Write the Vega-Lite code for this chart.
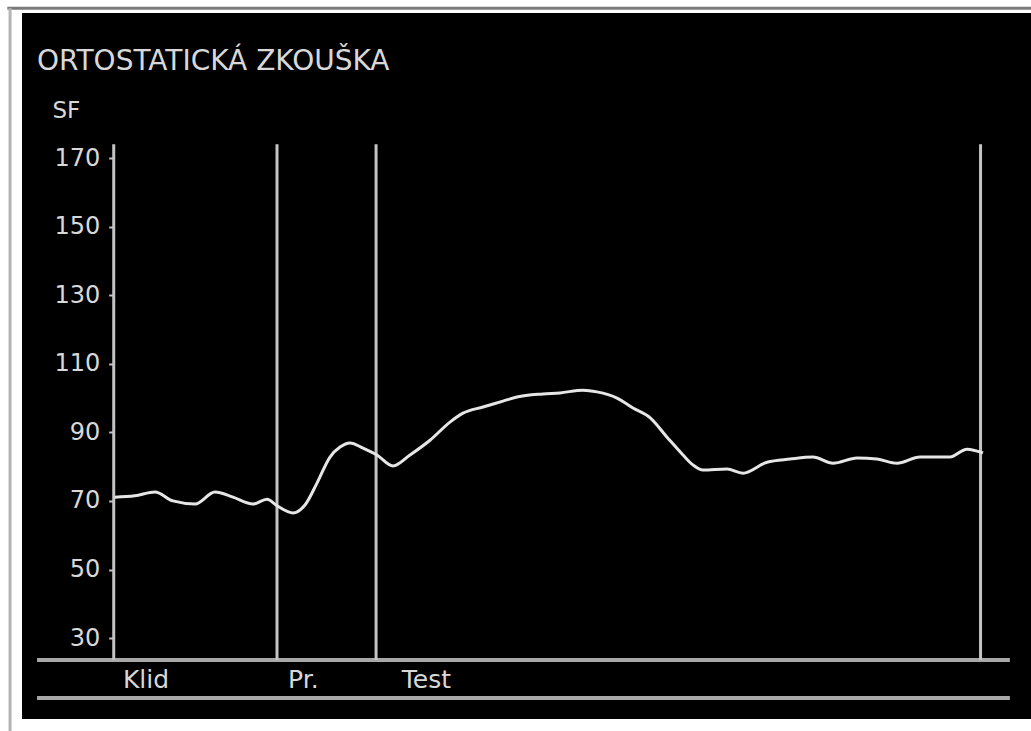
{
  "$schema": "https://vega.github.io/schema/vega-lite/v6.json",
  "autosize": "none",
  "width": 1009,
  "height": 706,
  "padding": {"left": 22, "top": 13, "right": 0, "bottom": 12},
  "background": "#ffffff",
  "config": {
    "view": {"fill": "#000000", "stroke": null},
    "font": "DejaVu Sans"
  },
  "layer": [
    {
      "data": {"values": [{}]},
      "mark": {"type": "rule", "color": "#7a7a7a", "strokeWidth": 3, "clip": false},
      "encoding": {
        "x": {"datum": -11.6, "type": "quantitative", "scale": {"domain": [-10, 100], "nice": false, "zero": false}, "axis": null},
        "x2": {"datum": 101},
        "y": {"datum": 213.7, "type": "quantitative", "scale": {"domain": [6.4, 212.3], "nice": false, "zero": false}}
      }
    },
    {
      "data": {"values": [{}]},
      "mark": {"type": "rule", "color": "#b4b4b4", "strokeWidth": 3, "clip": false},
      "encoding": {
        "x": {"datum": -11.3, "type": "quantitative"},
        "y": {"datum": 213.7, "type": "quantitative"},
        "y2": {"datum": 2.5}
      }
    },
    {
      "data": {"values": [{"sf": 23.6, "line": "base"}, {"sf": 12.5, "line": "bottom"}]},
      "mark": {"type": "rule", "color": "#a8a8a8", "strokeWidth": 4},
      "encoding": {
        "x": {"datum": -8.36, "type": "quantitative"},
        "x2": {"datum": 97.7},
        "y": {"field": "sf", "type": "quantitative"}
      }
    },
    {
      "data": {"values": [{"t": 0, "mark": "axis"}, {"t": 17.8, "mark": "Pr."}, {"t": 28.6, "mark": "Test"}, {"t": 94.5, "mark": "end"}]},
      "mark": {"type": "rule", "color": "#c4c4c4", "strokeWidth": 3},
      "encoding": {
        "x": {"field": "t", "type": "quantitative"},
        "y": {"datum": 174, "type": "quantitative"},
        "y2": {"datum": 23.6}
      }
    },
    {
      "data": {
        "values": [
          {"t": 0.1, "sf": 71.1},
          {"t": 2.3, "sf": 71.5},
          {"t": 4.5, "sf": 72.6},
          {"t": 6.46, "sf": 70.0},
          {"t": 8.86, "sf": 69.1},
          {"t": 11.04, "sf": 72.6},
          {"t": 13.0, "sf": 71.1},
          {"t": 15.18, "sf": 69.1},
          {"t": 16.71, "sf": 70.5},
          {"t": 17.8, "sf": 68.6},
          {"t": 19.54, "sf": 66.5},
          {"t": 20.85, "sf": 68.8},
          {"t": 22.16, "sf": 75.2},
          {"t": 23.58, "sf": 82.8},
          {"t": 24.67, "sf": 85.7},
          {"t": 25.76, "sf": 86.9},
          {"t": 27.18, "sf": 85.4},
          {"t": 28.7, "sf": 83.4},
          {"t": 30.45, "sf": 80.2},
          {"t": 32.3, "sf": 83.4},
          {"t": 34.48, "sf": 87.7},
          {"t": 36.66, "sf": 93.0},
          {"t": 38.08, "sf": 95.6},
          {"t": 40.26, "sf": 97.4},
          {"t": 42.44, "sf": 99.1},
          {"t": 43.96, "sf": 100.3},
          {"t": 46.8, "sf": 101.2},
          {"t": 48.65, "sf": 101.5},
          {"t": 51.16, "sf": 102.3},
          {"t": 52.69, "sf": 101.8},
          {"t": 54.87, "sf": 100.0},
          {"t": 56.61, "sf": 97.1},
          {"t": 58.46, "sf": 94.3},
          {"t": 60.32, "sf": 88.6},
          {"t": 62.06, "sf": 83.4},
          {"t": 63.15, "sf": 80.5},
          {"t": 64.24, "sf": 79.0},
          {"t": 66.86, "sf": 79.3},
          {"t": 68.6, "sf": 78.1},
          {"t": 71.22, "sf": 81.3},
          {"t": 73.73, "sf": 82.2},
          {"t": 76.23, "sf": 82.8},
          {"t": 78.41, "sf": 81.0},
          {"t": 81.03, "sf": 82.5},
          {"t": 83.21, "sf": 82.2},
          {"t": 85.39, "sf": 81.0},
          {"t": 87.9, "sf": 82.8},
          {"t": 91.17, "sf": 82.8},
          {"t": 93.02, "sf": 85.1},
          {"t": 94.77, "sf": 84.0}
        ]
      },
      "mark": {"type": "line", "color": "#e6e6e6", "strokeWidth": 3, "interpolate": "monotone"},
      "encoding": {
        "x": {"field": "t", "type": "quantitative"},
        "y": {
          "field": "sf",
          "type": "quantitative",
          "axis": {
            "orient": "left",
            "offset": -91.7,
            "values": [30, 50, 70, 90, 110, 130, 150, 170],
            "domain": false,
            "grid": false,
            "ticks": true,
            "tickColor": "#c4c4c4",
            "tickSize": 5,
            "tickWidth": 2,
            "labelPadding": 9,
            "labelFont": "DejaVu Sans",
            "labelFontSize": 24,
            "labelColor": "#d8d8d8",
            "labelAlign": "right",
            "labelBaseline": "middle",
            "title": "SF",
            "titleAngle": 0,
            "titleX": -61.7,
            "titleY": 104,
            "titleAlign": "left",
            "titleBaseline": "alphabetic",
            "titleFont": "DejaVu Sans",
            "titleFontSize": 23,
            "titleFontWeight": "normal",
            "titleColor": "#d8d8d8"
          }
        }
      }
    },
    {
      "data": {"values": [{"t": 1.0, "phase": "Klid"}, {"t": 19.0, "phase": "Pr."}, {"t": 31.4, "phase": "Test"}]},
      "mark": {"type": "text", "align": "left", "baseline": "alphabetic", "fontSize": 25, "font": "DejaVu Sans", "color": "#d8d8d8"},
      "encoding": {
        "x": {"field": "t", "type": "quantitative"},
        "y": {"datum": 15.4, "type": "quantitative"},
        "text": {"field": "phase"}
      }
    },
    {
      "data": {"values": [{"label": "ORTOSTATICKÁ ZKOUŠKA"}]},
      "mark": {"type": "text", "align": "left", "baseline": "alphabetic", "fontSize": 28, "font": "DejaVu Sans", "color": "#d8d8d8"},
      "encoding": {
        "x": {"datum": -8.36, "type": "quantitative"},
        "y": {"datum": 195.7, "type": "quantitative"},
        "text": {"field": "label"}
      }
    }
  ]
}
